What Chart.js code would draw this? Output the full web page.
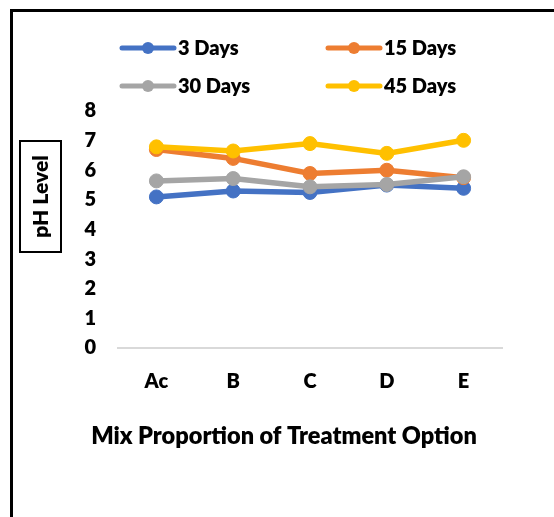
<!DOCTYPE html>
<html>
<head>
<meta charset="utf-8">
<script src="https://cdn.jsdelivr.net/npm/chart.js@4/dist/chart.umd.min.js"></script>
<style>
  html, body { margin: 0; padding: 0; background: #fff; }
  #wrap { position: relative; width: 554px; height: 517px; overflow: hidden; }
  #frame { position: absolute; left: 10px; top: 9px; width: 600px; height: 600px;
           border-left: 3px solid #000; border-top: 3px solid #000; box-sizing: border-box; }
  canvas { position: absolute; left: 0; top: 0; }
</style>
</head>
<body>
<div id="wrap">
  <div id="frame"></div>
  <canvas id="c" width="554" height="517"></canvas>
</div>
<script>
const categories = ['Ac', 'B', 'C', 'D', 'E'];
const seriesNames = ['3 Days', '15 Days', '30 Days', '45 Days'];
const days3  = [5.10, 5.30, 5.25, 5.50, 5.39];
const days15 = [6.70, 6.40, 5.89, 6.00, 5.75];
const days30 = [5.64, 5.72, 5.44, 5.52, 5.78];
const days45 = [6.79, 6.65, 6.90, 6.57, 7.01];
const yTicks = [0, 1, 2, 3, 4, 5, 6, 7, 8];
const colors = ['#4472C4', '#ED7D31', '#A5A5A5', '#FFC000'];
const values = [days3, days15, days30, days45];

const FONT = 'Lato, "Open Sans", sans-serif';
const WEIGHT = '800';

// Two-column legend, y-axis boxed title and x-axis title
const decorations = {
  id: 'decorations',
  afterDraw(chart) {
    const ctx = chart.ctx;
    ctx.save();
    // legend
    const colX = [122, 328];
    const rowY = [48, 86];
    chart.data.datasets.forEach((ds, i) => {
      const x0 = colX[i % 2];
      const y = rowY[Math.floor(i / 2)];
      ctx.strokeStyle = ds.borderColor;
      ctx.lineWidth = 5;
      ctx.lineCap = 'round';
      ctx.beginPath();
      ctx.moveTo(x0, y);
      ctx.lineTo(x0 + 52, y);
      ctx.stroke();
      ctx.fillStyle = ds.borderColor;
      ctx.beginPath();
      ctx.arc(x0 + 26, y, 6, 0, Math.PI * 2);
      ctx.fill();
      ctx.fillStyle = '#000';
      ctx.font = WEIGHT + ' 20px ' + FONT;
      ctx.textAlign = 'left';
      ctx.textBaseline = 'alphabetic';
      ctx.fillText(ds.label, x0 + 56, y + 7);
    });
    // boxed y title
    ctx.strokeStyle = '#000';
    ctx.lineWidth = 2;
    ctx.strokeRect(20, 141, 41, 111);
    ctx.translate(41, 196.5);
    ctx.rotate(-Math.PI / 2);
    ctx.fillStyle = '#000';
    ctx.font = WEIGHT + ' 21px ' + FONT;
    ctx.textAlign = 'center';
    ctx.textBaseline = 'middle';
    ctx.fillText('pH Level', 0, 0);
    ctx.setTransform(1, 0, 0, 1, 0, 0);
    // x title
    ctx.font = WEIGHT + ' 23.5px ' + FONT;
    ctx.textAlign = 'center';
    ctx.textBaseline = 'alphabetic';
    ctx.fillText('Mix Proportion of Treatment Option', 284, 444);
    ctx.restore();
  }
};

new Chart(document.getElementById('c'), {
  type: 'line',
  data: {
    labels: categories,
    datasets: values.map((v, i) => ({
      label: seriesNames[i],
      data: v,
      borderColor: colors[i],
      backgroundColor: colors[i],
      borderWidth: 5.5,
      pointRadius: 7,
      pointBorderWidth: 1,
      pointBackgroundColor: colors[i],
      pointBorderColor: colors[i],
      tension: 0,
      order: 4 - i
    }))
  },
  options: {
    responsive: false,
    animation: false,
    devicePixelRatio: 1,
    layout: { padding: { top: 111, right: 52, left: 0, bottom: 0 } },
    plugins: { legend: { display: false }, tooltip: { enabled: false } },
    scales: {
      x: {
        type: 'category',
        offset: true,
        grid: { display: false, drawTicks: false },
        border: { display: true, color: '#D9D9D9', width: 2 },
        ticks: { color: '#000', padding: 22, font: { family: FONT, weight: WEIGHT, size: 20 } },
        afterFit(scale) { scale.height = 169; }
      },
      y: {
        min: 0, max: 8,
        afterBuildTicks(scale) { scale.ticks = yTicks.map(v => ({ value: v })); },
        grid: { display: false, drawTicks: false },
        border: { display: false },
        ticks: { color: '#000', padding: 22, font: { family: FONT, weight: WEIGHT, size: 20 } },
        afterFit(scale) { scale.width = 118; }
      }
    }
  },
  plugins: [decorations]
});
</script>
</body>
</html>
